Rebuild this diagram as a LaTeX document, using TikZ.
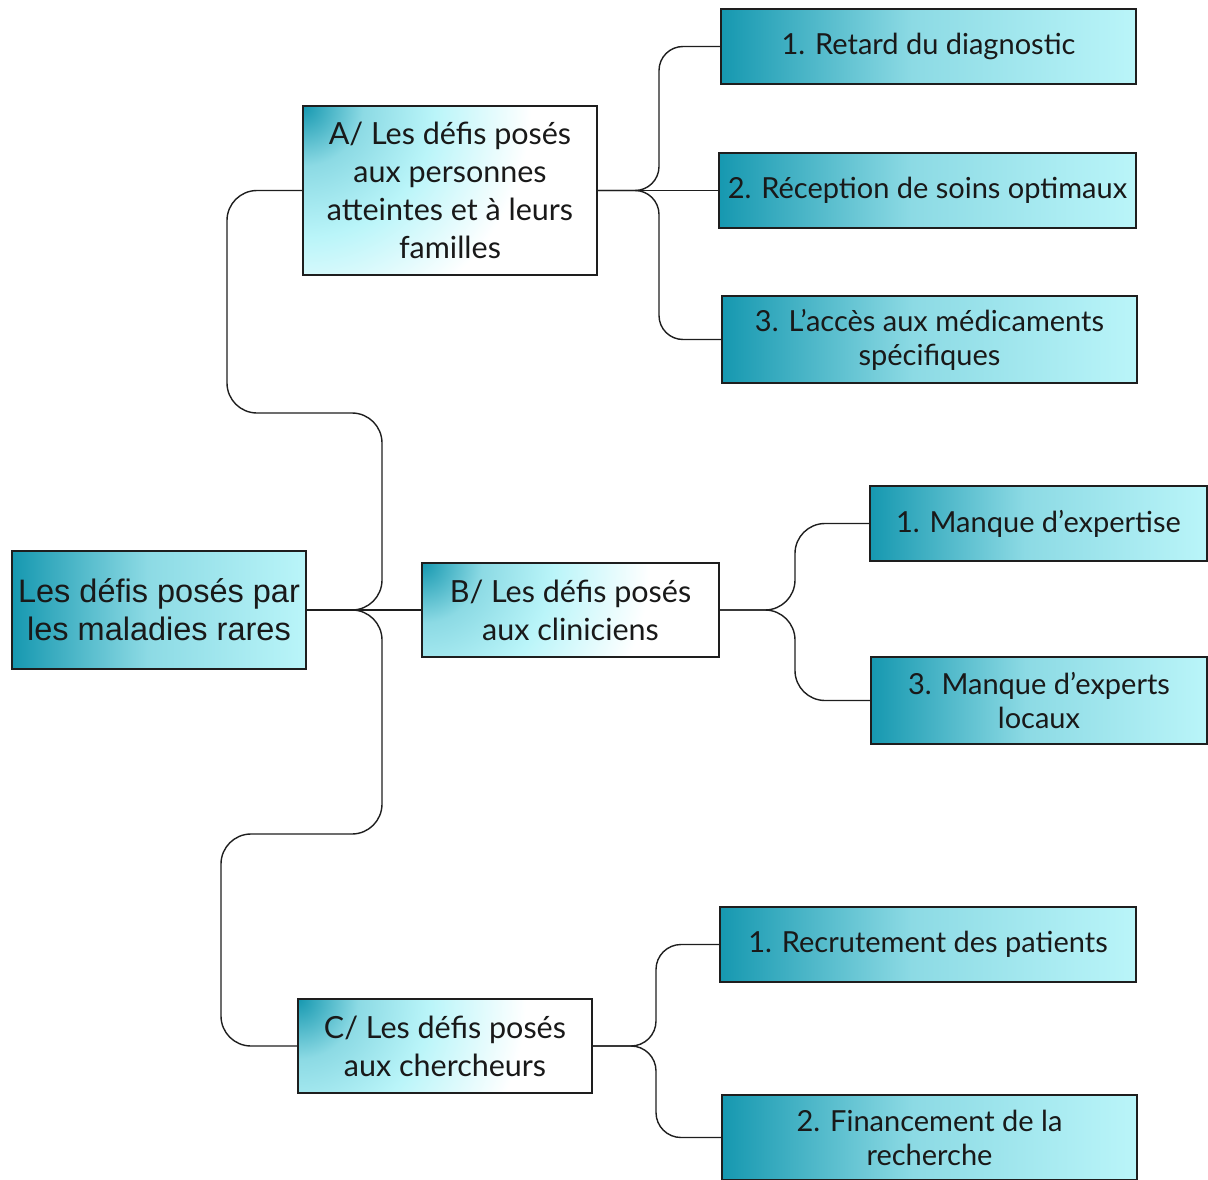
\documentclass[tikz,border=0pt]{standalone}
\usepackage{fontspec}
\setmainfont{Lato}
\newfontfamily\rootfont{Liberation Sans}
\definecolor{tealD}{RGB}{22,152,176}
\definecolor{tealM}{RGB}{140,218,228}
\definecolor{tealL}{RGB}{186,245,249}
\definecolor{lineC}{RGB}{30,30,30}
\definecolor{txtC}{RGB}{25,25,25}
\pgfdeclarehorizontalshading{leafshade}{100bp}{color(0bp)=(tealD); color(25bp)=(tealD); color(48bp)=(tealM); color(75bp)=(tealL); color(100bp)=(tealL)}
\pgfdeclareradialshading{abcrad}{\pgfpoint{0bp}{0bp}}{color(0bp)=(tealD); color(5bp)=(tealM); color(11bp)=(tealL); color(19bp)=(white); color(50bp)=(white)}
\tikzset{
  leaf/.style={draw=lineC, line width=1.3pt, shade, shading=leafshade, align=center,
    font=\fontsize{29}{34}\selectfont, text=txtC, inner sep=0pt},
  mid/.style={draw=lineC, line width=1.3pt, align=center,
    font=\fontsize{30.5}{38}\selectfont, text=txtC, inner sep=0pt,
    path picture={\shade[shading=abcrad] (path picture bounding box.north west) circle (300pt);}},
  rootbox/.style={draw=lineC, line width=1.3pt, shade, shading=leafshade, align=center,
    font=\rootfont\fontsize{32.5}{38}\selectfont, text=txtC, inner sep=0pt},
  conn/.style={draw=lineC, line width=1.4pt}
}
\begin{document}
\begin{tikzpicture}[x=1pt,y=-1pt]
\useasboundingbox (0,0) rectangle (1208,1180);
% nodes
\node[rootbox, minimum width=294pt, minimum height=118pt] (root) at (159,610) {Les défis posés par\\les maladies rares};
\node[mid, minimum width=294pt, minimum height=169pt] (A) at (450,190.5) {A/ Les défis posés\\aux personnes\\atteintes et à leurs\\familles};
\node[mid, minimum width=297pt, minimum height=94pt] (B) at (570.5,610) {B/ Les défis posés\\aux cliniciens};
\node[mid, minimum width=294pt, minimum height=94pt] (C) at (445,1046) {C/ Les défis posés\\aux chercheurs};
\node[leaf, minimum width=415pt, minimum height=75pt] (A1) at (928.5,46.5) {1. Retard du diagnostic};
\node[leaf, minimum width=417pt, minimum height=75pt] (A2) at (927.5,190.5) {2. Réception de soins optimaux};
\node[leaf, minimum width=415pt, minimum height=87pt] (A3) at (929.5,339.5) {3. L’accès aux médicaments\\spécifiques};
\node[leaf, minimum width=337pt, minimum height=75pt] (B1) at (1038.5,523.5) {1. Manque d’expertise};
\node[leaf, minimum width=336pt, minimum height=87pt] (B3) at (1039,700.5) {3. Manque d’experts\\locaux};
\node[leaf, minimum width=416pt, minimum height=75pt] (C1) at (928,944.5) {1. Recrutement des patients};
\node[leaf, minimum width=415pt, minimum height=85pt] (C2) at (929.5,1137.5) {2. Financement de la\\recherche};
% connectors from root
\draw[conn, rounded corners=30pt] (root.east) -- (382,610) -- (382,413) -- (227,413) -- (227,190.5) -- (A.west);
\draw[conn] (root.east) -- (B.west);
\draw[conn, rounded corners=30pt] (root.east) -- (382,610) -- (382,834) -- (221,834) -- (221,1046) -- (C.west);
% connectors from A
\draw[conn, rounded corners=24pt] (A.east) -- (659,190.5) -- (659,46.5) -- (A1.west);
\draw[conn] (A.east) -- (A2.west);
\draw[conn, rounded corners=24pt] (A.east) -- (659,190.5) -- (659,339.5) -- (A3.west);
% connectors from B
\draw[conn, rounded corners=30pt] (B.east) -- (795,610) -- (795,523.5) -- (B1.west);
\draw[conn, rounded corners=30pt] (B.east) -- (795,610) -- (795,700.5) -- (B3.west);
% connectors from C
\draw[conn, rounded corners=25pt] (C.east) -- (656,1046) -- (656,944.5) -- (C1.west);
\draw[conn, rounded corners=25pt] (C.east) -- (656,1046) -- (656,1137.5) -- (C2.west);
\end{tikzpicture}
\end{document}
